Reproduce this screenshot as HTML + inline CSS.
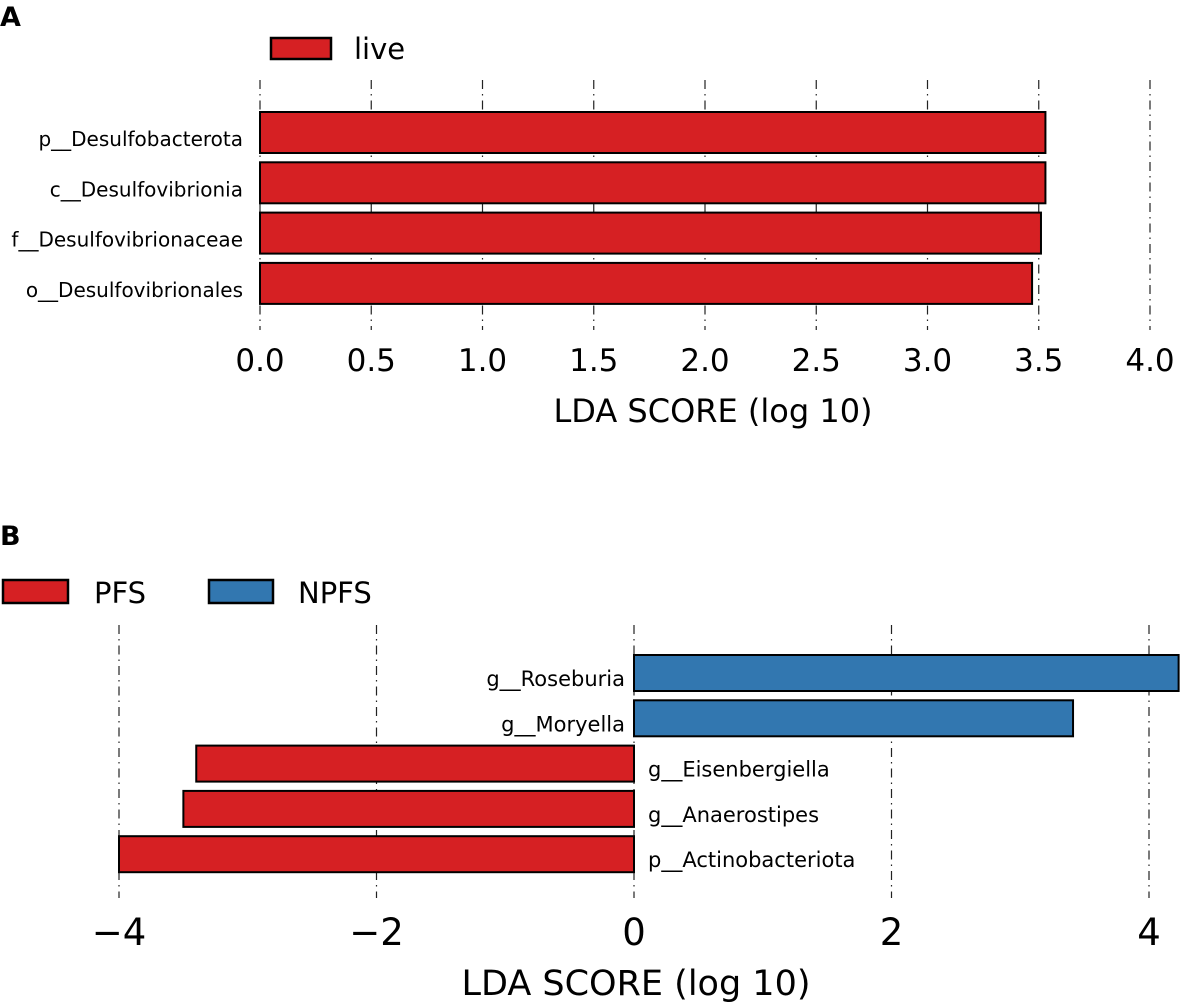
<!DOCTYPE html>
<html><head><meta charset="utf-8">
<style>
html,body{margin:0;padding:0;background:#fff;}
svg{display:block;font-family:"DejaVu Sans","Liberation Sans",sans-serif;}
</style></head>
<body>
<svg id="chart" width="1181" height="1005" viewBox="0 0 1181 1005" xmlns="http://www.w3.org/2000/svg">
  <text x="0" y="26" font-size="27" font-weight="bold">A</text>
  <g>
    <rect x="271" y="38" width="60" height="21" fill="#d62023" stroke="#000" stroke-width="2.5"/>
    <text x="354" y="59" font-size="29">live</text>
  </g>
  <text x="0" y="545" font-size="27" font-weight="bold">B</text>
  <g>
    <rect x="3" y="580" width="65" height="23" fill="#d62023" stroke="#000" stroke-width="2.5"/>
    <text x="94" y="603" font-size="29">PFS</text>
    <rect x="209" y="580" width="64" height="23" fill="#3277b0" stroke="#000" stroke-width="2.5"/>
    <text x="298" y="603" font-size="29">NPFS</text>
  </g>
  <g id="pa"></g>
  <g id="pb"></g>
</svg>
<script>
const catsA = ["p__Desulfobacterota","c__Desulfovibrionia","f__Desulfovibrionaceae","o__Desulfovibrionales"];
const valsA = [3.53, 3.53, 3.51, 3.47];
const ticksA = [0,0.5,1,1.5,2,2.5,3,3.5,4];
const tickLabelsA = ["0.0","0.5","1.0","1.5","2.0","2.5","3.0","3.5","4.0"];

const catsB = ["g__Roseburia","g__Moryella","g__Eisenbergiella","g__Anaerostipes","p__Actinobacteriota"];
const valsB = [4.23, 3.41, -3.40, -3.50, -4.00];
const ticksB = [-4,-2,0,2,4];
const tickLabelsB = ["\u22124","\u22122","0","2","4"];

const NS="http://www.w3.org/2000/svg";
function mk(tag, attrs, parent){const e=document.createElementNS(NS,tag);for(const k in attrs)e.setAttribute(k,attrs[k]);parent.appendChild(e);return e;}

// Panel A
const xA = v => 260 + v*222.5;
const bandA = i => 112 + i*50.3;
const gA=document.getElementById('pa');
ticksA.forEach((t,i)=>{
  const l=mk('line',{x1:xA(t),x2:xA(t),y1:80,y2:330,stroke:'#222','stroke-width':1.2,'stroke-dasharray':'9,5,1.5,5'},gA);
  
  
  const tx=mk('text',{x:xA(t),y:371,'font-size':31,'text-anchor':'middle'},gA);
  tx.textContent=tickLabelsA[i];
  
  
});
catsA.forEach((c,i)=>{
  const r=mk('rect',{x:xA(0),y:bandA(i),width:xA(valsA[i])-xA(0),height:41,fill:'#d62023',stroke:'#000','stroke-width':2},gA);
  
  
  const t=mk('text',{x:243,y:bandA(i)+34,'font-size':20,'text-anchor':'end'},gA);
  t.textContent=c;
  
  
});
const tA=mk('text',{x:xA(2)+8,y:422,'font-size':32,'text-anchor':'middle'},gA);
tA.textContent="LDA SCORE (log 10)";



// Panel B
const xB = v => 634 + v*128.75;
const bandB = i => 655 + i*45.3;
const gB=document.getElementById('pb');
ticksB.forEach((t,i)=>{
  const l=mk('line',{x1:xB(t),x2:xB(t),y1:625,y2:898,stroke:'#222','stroke-width':1.2,'stroke-dasharray':'9,5,1.5,5'},gB);
  
  
  const tx=mk('text',{x:xB(t),y:945,'font-size':37,'text-anchor':'middle'},gB);
  tx.textContent=tickLabelsB[i];
  
  
});
catsB.forEach((c,i)=>{
  const v=valsB[i];
  const x0=Math.min(xB(0),xB(v)), w=Math.abs(xB(v)-xB(0));
  const r=mk('rect',{x:x0,y:bandB(i),width:w,height:36,fill:v>=0?'#3277b0':'#d62023',stroke:'#000','stroke-width':2},gB);
  
  
  const t=mk('text',{x:v>=0?xB(0)-9:xB(0)+14,y:bandB(i)+31,'font-size':21,'text-anchor':v>=0?'end':'start'},gB);
  t.textContent=c;
  
  
});
const tB=mk('text',{x:636,y:995,'font-size':35,'text-anchor':'middle'},gB);
tB.textContent="LDA SCORE (log 10)";


</script>
</body></html>
